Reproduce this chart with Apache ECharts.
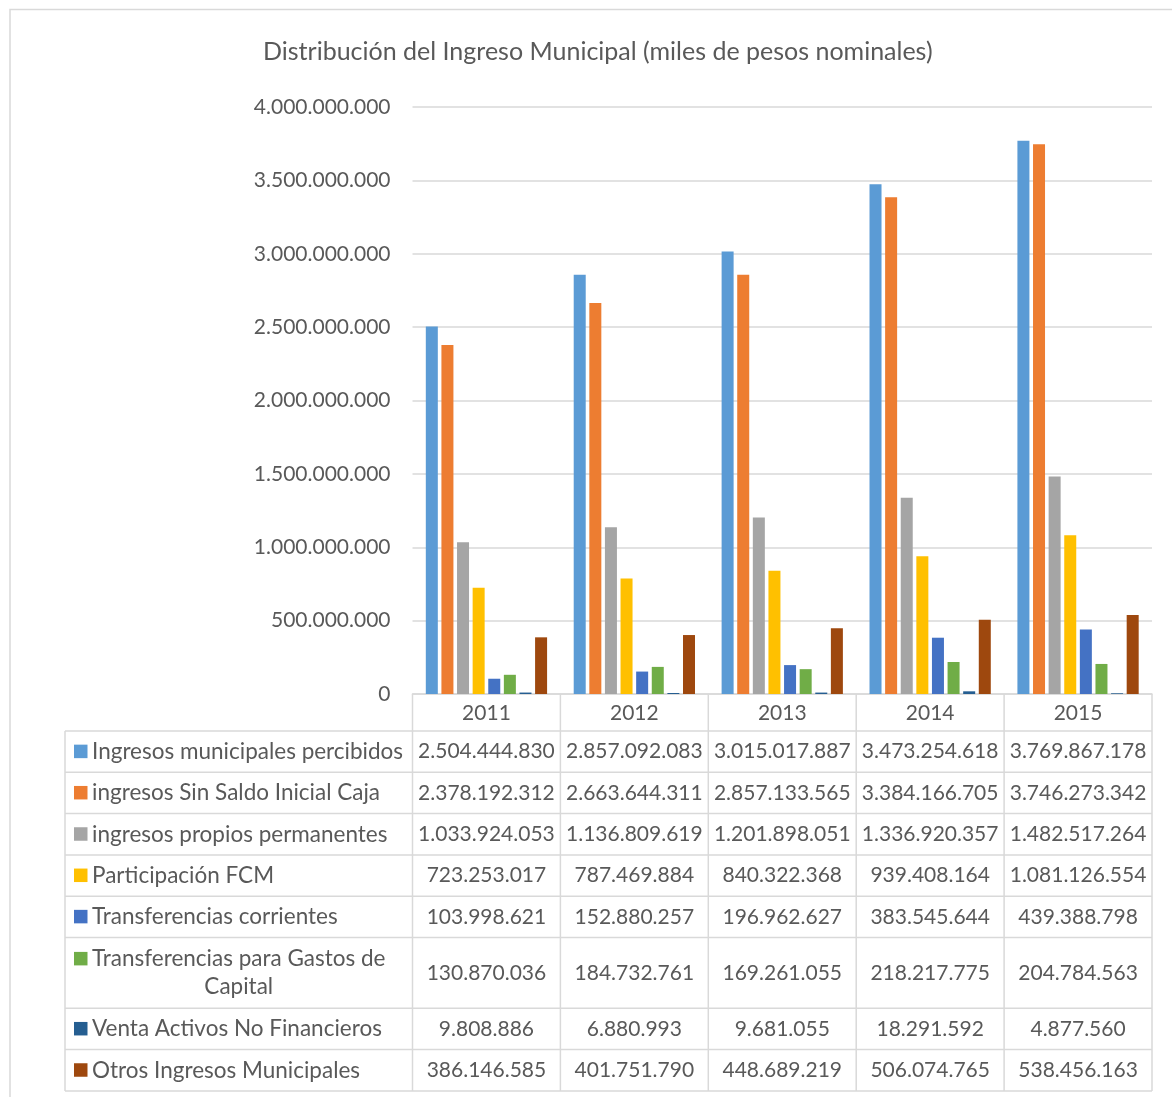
<!DOCTYPE html>
<html>
<head>
<meta charset="utf-8">
<script src="https://cdn.jsdelivr.net/npm/echarts@6/dist/echarts.min.js"></script>
<style>
  html, body { margin: 0; padding: 0; background: #fff; }
  #chart { width: 1172px; height: 1097px; }
</style>
</head>
<body>
<div id="chart"></div>
<script>
// Años (categorías del eje X y encabezados de la tabla)
const years = ['2011', '2012', '2013', '2014', '2015'];

// Series (miles de pesos nominales)
const ingresosPercibidos   = [2504444830, 2857092083, 3015017887, 3473254618, 3769867178];
const ingresosSinSaldo     = [2378192312, 2663644311, 2857133565, 3384166705, 3746273342];
const ingresosPropios      = [1033924053, 1136809619, 1201898051, 1336920357, 1482517264];
const participacionFCM     = [723253017, 787469884, 840322368, 939408164, 1081126554];
const transfCorrientes     = [103998621, 152880257, 196962627, 383545644, 439388798];
const transfGastosCapital  = [130870036, 184732761, 169261055, 218217775, 204784563];
const ventaActivos         = [9808886, 6880993, 9681055, 18291592, 4877560];
const otrosIngresos        = [386146585, 401751790, 448689219, 506074765, 538456163];

// Nombres de las series (líneas tal como aparecen en la tabla)
const seriesLines = [
  ['Ingresos municipales percibidos'],
  ['ingresos Sin Saldo Inicial Caja'],
  ['ingresos propios permanentes'],
  ['Participación FCM'],
  ['Transferencias corrientes'],
  ['Transferencias para Gastos de', 'Capital'],
  ['Venta Activos No Financieros'],
  ['Otros Ingresos Municipales']
];

// Etiquetas del eje Y
const yTicks = [0, 500000000, 1000000000, 1500000000, 2000000000, 2500000000, 3000000000, 3500000000, 4000000000];

const seriesValues = [ingresosPercibidos, ingresosSinSaldo, ingresosPropios, participacionFCM,
  transfCorrientes, transfGastosCapital, ventaActivos, otrosIngresos];
const seriesColors = ['#5B9BD5', '#ED7D31', '#A5A5A5', '#FFC000', '#4472C4', '#70AD47', '#255E91', '#9E480E'];

const FONT = 'Lato';
const TEXT = '#595959';
const LINE = '#d9d9d9';

const fmt = v => String(v).replace(/\B(?=(\d{3})+(?!\d))/g, '.');

const chart = echarts.init(document.getElementById('chart'));

chart.setOption({
  animation: false,
  textStyle: { fontFamily: FONT },
  title: {
    text: 'Distribución del Ingreso Municipal (miles de pesos nominales)',
    left: 263,
    top: 39,
    padding: 0,
    textStyle: { fontFamily: FONT, fontSize: 25, fontWeight: 'normal', color: TEXT }
  },
  grid: { left: 412.5, right: 20, top: 107, bottom: 403 },
  xAxis: {
    type: 'category',
    data: years,
    axisLine: { lineStyle: { color: LINE, width: 1.5 } },
    axisTick: { show: false },
    axisLabel: { fontFamily: FONT, fontSize: 21, color: TEXT, margin: 9 }
  },
  yAxis: {
    type: 'value',
    min: yTicks[0],
    max: yTicks[yTicks.length - 1],
    interval: yTicks[1] - yTicks[0],
    axisLine: { show: false },
    axisTick: { show: false },
    axisLabel: { fontFamily: FONT, fontSize: 21, color: TEXT, margin: 22, formatter: v => fmt(v) },
    splitLine: { lineStyle: { color: LINE, width: 1.5 } }
  },
  series: seriesValues.map((vals, i) => ({
    type: 'bar',
    name: seriesLines[i].join(' '),
    data: vals,
    barGap: '30%',
    barCategoryGap: '18%',
    itemStyle: { color: seriesColors[i] }
  }))
});

// Tabla de datos bajo el eje X
function drawTable() {
  const xs = years.map(y => chart.convertToPixel({ xAxisIndex: 0 }, y));
  const band = xs[1] - xs[0];
  const edges = [xs[0] - band / 2].concat(xs.map(x => x + band / 2));
  const axisY = chart.convertToPixel({ yAxisIndex: 0 }, 0);
  const labelLeft = 65;
  const headerH = 37;
  const rowH = 41.3;
  const lineH = 28;
  const labelFont = '22.5px ' + FONT;
  const valueFont = '21px ' + FONT;

  const rowTops = [];
  let y = axisY + headerH;
  seriesLines.forEach(lines => {
    rowTops.push(y);
    y += lines.length > 1 ? rowH + lineH + 1.5 : rowH;
  });
  const tableBottom = y;

  const els = [];
  const lineStyle = { stroke: LINE, lineWidth: 1.5 };

  // Marco exterior del gráfico
  els.push({ type: 'rect', shape: { x: 10, y: 9.5, width: 1400, height: 1400 },
    style: { fill: null, stroke: LINE, lineWidth: 1.5 }, silent: true, z: 0 });

  // Líneas verticales
  edges.forEach(x => {
    els.push({ type: 'line', shape: { x1: x, y1: axisY, x2: x, y2: tableBottom }, style: lineStyle, silent: true });
  });
  els.push({ type: 'line', shape: { x1: labelLeft, y1: rowTops[0], x2: labelLeft, y2: tableBottom }, style: lineStyle, silent: true });

  // Líneas horizontales
  rowTops.concat([tableBottom]).forEach(ry => {
    els.push({ type: 'line', shape: { x1: labelLeft, y1: ry, x2: edges[edges.length - 1], y2: ry }, style: lineStyle, silent: true });
  });

  // Filas: clave de color, nombre y valores
  seriesLines.forEach((lines, i) => {
    const top = rowTops[i];
    const bottom = i + 1 < rowTops.length ? rowTops[i + 1] : tableBottom;
    const mid = (top + bottom) / 2;
    const firstY = lines.length > 1 ? mid - lineH / 2 : mid;
    els.push({ type: 'rect', shape: { x: labelLeft + 9, y: firstY - 7, width: 13.5, height: 13.5 },
      style: { fill: seriesColors[i] }, silent: true });
    els.push({ type: 'text', x: labelLeft + 27, y: firstY,
      style: { text: lines[0], font: labelFont, fill: TEXT, align: 'left', verticalAlign: 'middle' }, silent: true });
    for (let k = 1; k < lines.length; k++) {
      els.push({ type: 'text', x: (labelLeft + edges[0]) / 2, y: firstY + lineH * k,
        style: { text: lines[k], font: labelFont, fill: TEXT, align: 'center', verticalAlign: 'middle' }, silent: true });
    }
    seriesValues[i].forEach((v, j) => {
      els.push({ type: 'text', x: xs[j], y: mid,
        style: { text: fmt(v), font: valueFont, fill: TEXT, align: 'center', verticalAlign: 'middle' }, silent: true });
    });
  });

  chart.setOption({ graphic: { elements: els } });
}

drawTable();
</script>
</body>
</html>
